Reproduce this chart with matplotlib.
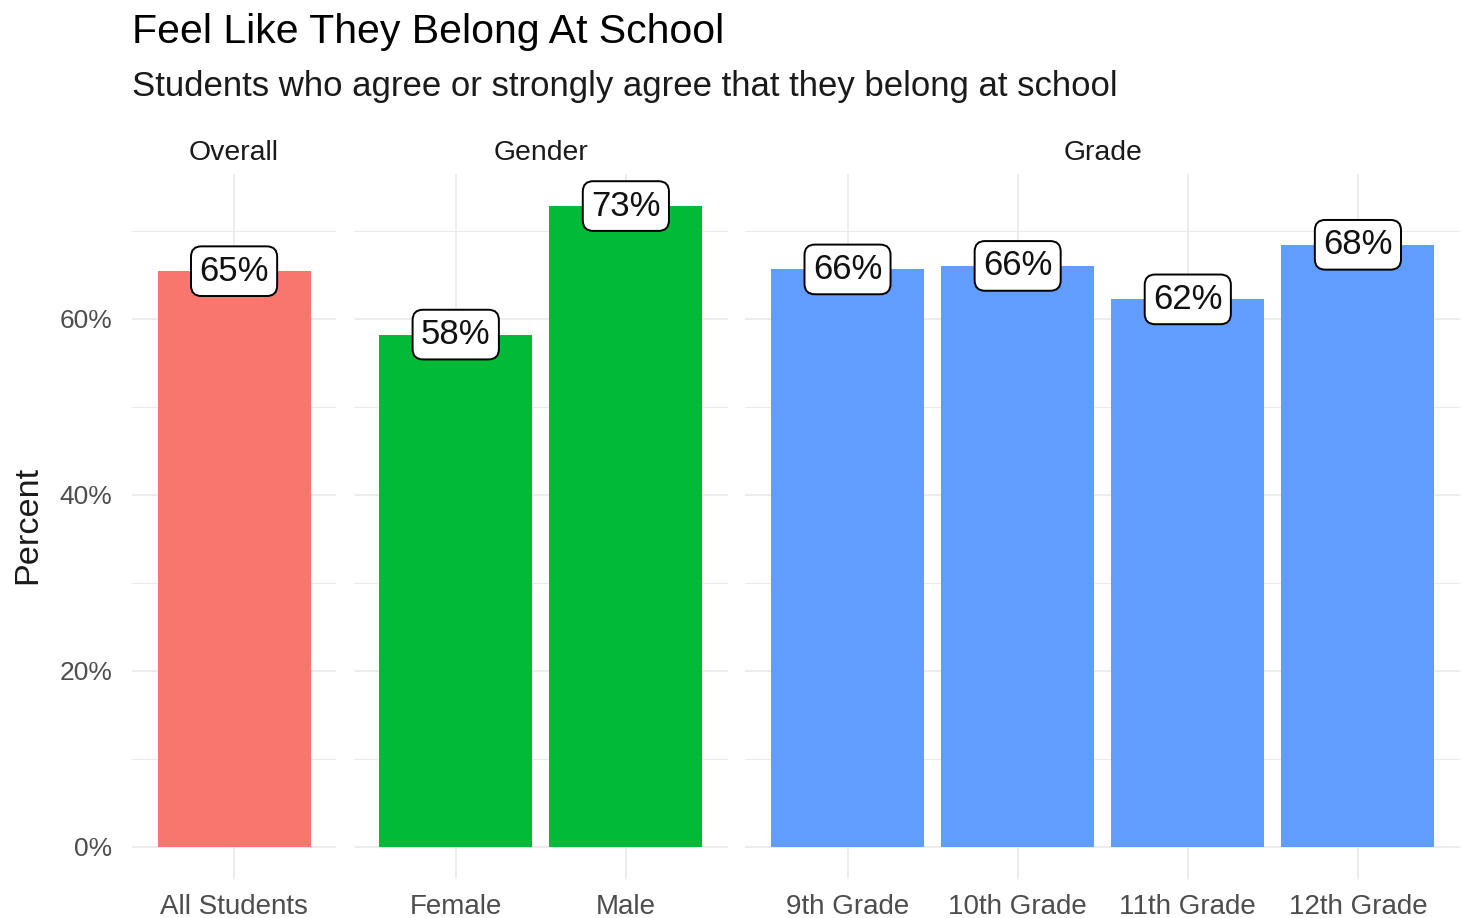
import numpy as np
import matplotlib
matplotlib.use("Agg")
import matplotlib.pyplot as plt

plt.rcParams['font.family'] = ['Liberation Sans', 'DejaVu Sans']

# data
facets = ['Overall', 'Gender', 'Grade']
groups = [['All Students'], ['Female', 'Male'],
          ['9th Grade', '10th Grade', '11th Grade', '12th Grade']]
values = [[65.4], [58.2, 72.8], [65.6, 66.0, 62.2, 68.4]]
colors = ['#F8766D', '#00BA38', '#619CFF']

title = 'Feel Like They Belong At School'
subtitle = 'Students who agree or strongly agree that they belong at school'

W, H = 1461, 918
fig = plt.figure(figsize=(W / 100, H / 100), dpi=100)
gs = fig.add_gridspec(1, 3, width_ratios=[len(g) + 0.2 for g in groups],
                      left=132 / W, right=1460 / W,
                      bottom=1 - 879 / H, top=1 - 174 / H, wspace=0.0406)

ymax = max(max(v) for v in values)
grid_c = '#EBEBEB'

for i, (name, cats, vals) in enumerate(zip(facets, groups, values)):
    ax = fig.add_subplot(gs[0, i])
    x = np.arange(len(cats))
    ax.bar(x, vals, width=0.9, color=colors[i], zorder=2)
    for xi, v in zip(x, vals):
        ax.text(xi, v, f'{round(v):d}%', ha='center', va='center',
                fontsize=25, color='#111111', zorder=4,
                bbox=dict(boxstyle='round,pad=0.24,rounding_size=0.3',
                          fc='white', ec='black', lw=1.4))
    ax.set_xlim(-0.6, len(cats) - 0.4)
    ax.set_ylim(-0.05 * ymax, 1.05 * ymax)
    ax.set_xticks(x)
    ax.set_xticklabels(cats)
    ax.set_yticks([0, 20, 40, 60])
    ax.set_yticks([10, 30, 50, 70], minor=True)
    ax.set_yticklabels(['0%', '20%', '40%', '60%'])
    ax.grid(axis='y', which='major', color=grid_c, lw=1.3, zorder=0)
    ax.grid(axis='y', which='minor', color=grid_c, lw=0.8, zorder=0)
    ax.grid(axis='x', which='major', color=grid_c, lw=1.3, zorder=0)
    for s in ax.spines.values():
        s.set_visible(False)
    ax.tick_params(axis='both', which='both', length=0)
    ax.tick_params(axis='x', labelsize=20, colors='#4D4D4D', pad=11)
    ax.tick_params(axis='y', labelsize=19, colors='#4D4D4D', pad=14)
    if i > 0:
        ax.tick_params(axis='y', labelleft=False)
    ax.text(0.5, 1 + 14 / 705, name, transform=ax.transAxes, ha='center',
            va='baseline', fontsize=20.4, color='#1A1A1A')
    ax.set_axisbelow(True)

fig.text(28 / W, 1 - 525 / H, 'Percent', rotation=90, ha='center',
         va='center', fontsize=24.7, color='#1A1A1A')
fig.text(132 / W, 1 - 43 / H, title, ha='left', va='baseline',
         fontsize=29.5, color='black')
fig.text(132 / W, 1 - 96 / H, subtitle, ha='left', va='baseline',
         fontsize=25, color='#1A1A1A')

fig.savefig('out.png', dpi=100, facecolor='white')
